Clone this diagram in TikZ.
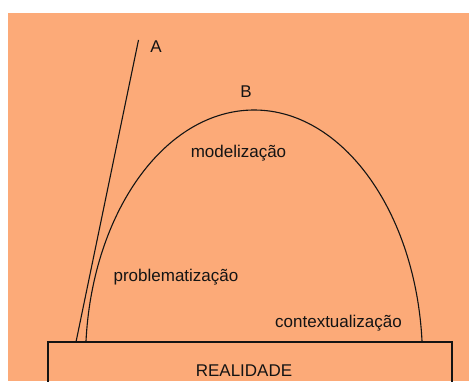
\documentclass[tikz,border=0pt]{standalone}
\usepackage{fontspec}
\setmainfont{Liberation Sans}
\definecolor{bgorange}{RGB}{252,170,120}
\definecolor{ink}{RGB}{20,20,20}
\begin{document}
\begin{tikzpicture}[x=1pt,y=1pt,
  lbl/.style={anchor=base,inner sep=0pt,text=ink,font=\fontsize{17}{19}\selectfont},
  ln/.style={draw=ink,line width=1.1pt}]
\useasboundingbox (0,0) rectangle (469,381);
\fill[white] (0,0) rectangle (469,381);
\fill[bgorange] (8,0) rectangle (469,368);
% reality box
\draw[ln] (48,-2) -- (48,39) -- (452,39) -- (452,-2);
\node[lbl] (real) at (244,5) {REALIDADE};
% line A
\coordinate (a0) at (76,39);
\coordinate (a1) at (138.5,341);
\draw[ln] (a0) -- (a1);
\node[lbl] (la) at (156,328) {A};
% arch B
\coordinate (bfoot) at (422.06,39);
\draw[ln] (bfoot) arc[start angle=4.13, end angle=175.87, x radius=168.5, y radius=250];
\node[lbl] (lb) at (246,283) {B};
\node[lbl] (mod) at (238.5,223) {modelização};
\node[lbl] (prob) at (176,100) {problematização};
\node[lbl] (ctx) at (338.5,54) {contextualização};
\end{tikzpicture}
\end{document}
